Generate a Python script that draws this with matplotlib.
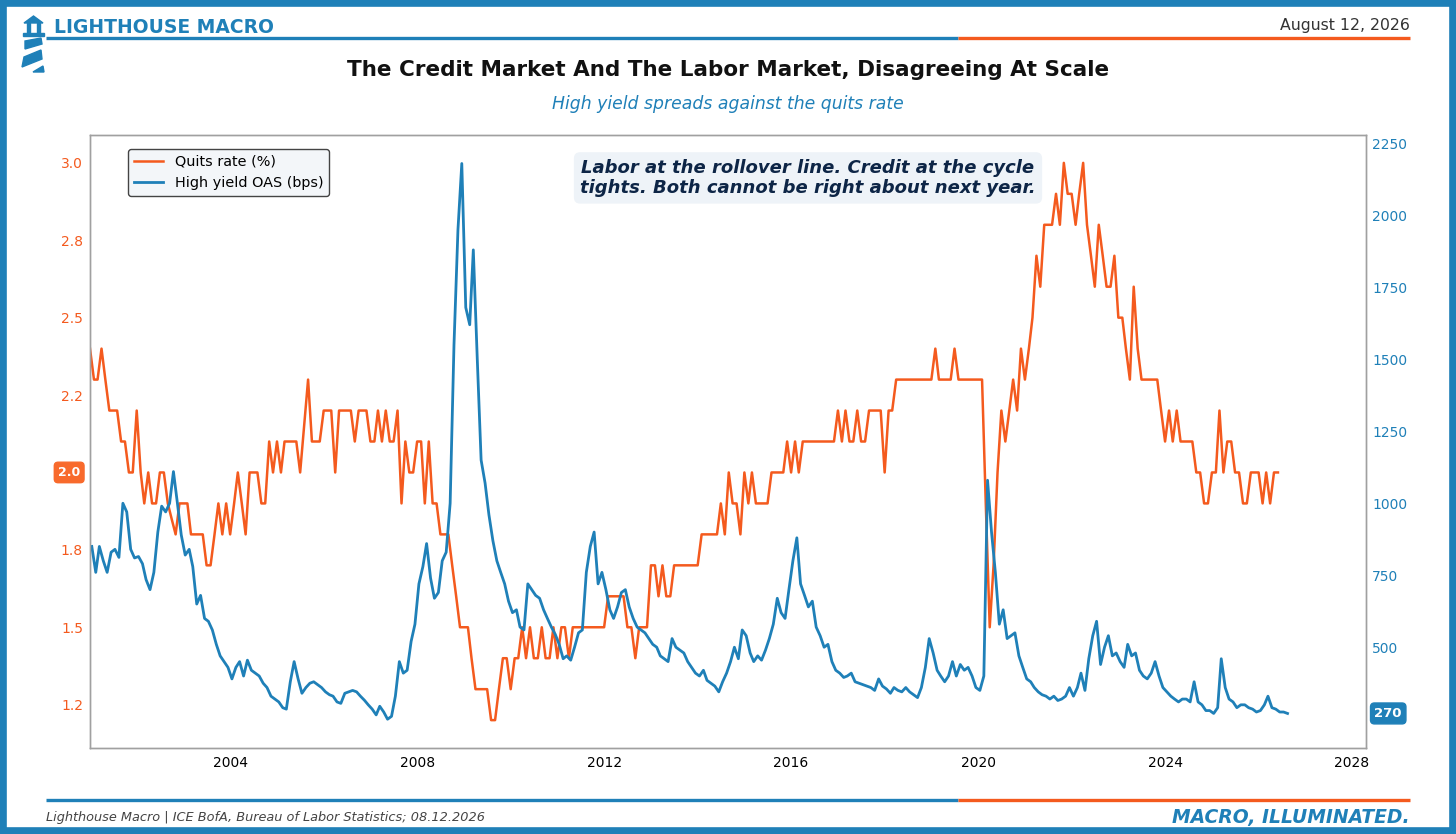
import pandas as pd
import matplotlib
matplotlib.use("Agg")
import matplotlib.pyplot as plt
import matplotlib.dates as mdates
from matplotlib.patches import Rectangle, Polygon
from matplotlib.lines import Line2D
from matplotlib.ticker import MultipleLocator, FuncFormatter, FixedLocator

BLUE = '#1f80b8'
ORANGE = '#f45a1e'
NAVY = '#0d2546'
W, H = 1456, 834

# JOLTS quits rate, monthly from Jan 2001 (%)
quits_rate = [
    2.4, 2.3, 2.3, 2.4, 2.3, 2.2, 2.2, 2.2, 2.1, 2.1, 2.0, 2.0,
    2.2, 2.0, 1.9, 2.0, 1.9, 1.9, 2.0, 2.0, 1.9, 1.85, 1.8, 1.9,
    1.9, 1.9, 1.8, 1.8, 1.8, 1.8, 1.7, 1.7, 1.8, 1.9, 1.8, 1.9,
    1.8, 1.9, 2.0, 1.9, 1.8, 2.0, 2.0, 2.0, 1.9, 1.9, 2.1, 2.0,
    2.1, 2.0, 2.1, 2.1, 2.1, 2.1, 2.0, 2.15, 2.3, 2.1, 2.1, 2.1,
    2.2, 2.2, 2.2, 2.0, 2.2, 2.2, 2.2, 2.2, 2.1, 2.2, 2.2, 2.2,
    2.1, 2.1, 2.2, 2.1, 2.2, 2.1, 2.1, 2.2, 1.9, 2.1, 2.0, 2.0,
    2.1, 2.1, 1.9, 2.1, 1.9, 1.9, 1.8, 1.8, 1.8, 1.7, 1.6, 1.5,
    1.5, 1.5, 1.4, 1.3, 1.3, 1.3, 1.3, 1.2, 1.2, 1.3, 1.4, 1.4,
    1.3, 1.4, 1.4, 1.5, 1.4, 1.5, 1.4, 1.4, 1.5, 1.4, 1.4, 1.5,
    1.4, 1.5, 1.5, 1.4, 1.5, 1.5, 1.5, 1.5, 1.5, 1.5, 1.5, 1.5,
    1.5, 1.6, 1.6, 1.6, 1.6, 1.6, 1.5, 1.5, 1.4, 1.5, 1.5, 1.5,
    1.7, 1.7, 1.6, 1.7, 1.6, 1.6, 1.7, 1.7, 1.7, 1.7, 1.7, 1.7,
    1.7, 1.8, 1.8, 1.8, 1.8, 1.8, 1.9, 1.8, 2.0, 1.9, 1.9, 1.8,
    2.0, 1.9, 2.0, 1.9, 1.9, 1.9, 1.9, 2.0, 2.0, 2.0, 2.0, 2.1,
    2.0, 2.1, 2.0, 2.1, 2.1, 2.1, 2.1, 2.1, 2.1, 2.1, 2.1, 2.1,
    2.2, 2.1, 2.2, 2.1, 2.1, 2.2, 2.1, 2.1, 2.2, 2.2, 2.2, 2.2,
    2.0, 2.2, 2.2, 2.3, 2.3, 2.3, 2.3, 2.3, 2.3, 2.3, 2.3, 2.3,
    2.3, 2.4, 2.3, 2.3, 2.3, 2.3, 2.4, 2.3, 2.3, 2.3, 2.3, 2.3,
    2.3, 2.3, 1.9, 1.5, 1.7, 2.0, 2.2, 2.1, 2.2, 2.3, 2.2, 2.4,
    2.3, 2.4, 2.5, 2.7, 2.6, 2.8, 2.8, 2.8, 2.9, 2.8, 3.0, 2.9,
    2.9, 2.8, 2.9, 3.0, 2.8, 2.7, 2.6, 2.8, 2.7, 2.6, 2.6, 2.7,
    2.5, 2.5, 2.4, 2.3, 2.6, 2.4, 2.3, 2.3, 2.3, 2.3, 2.3, 2.2,
    2.1, 2.2, 2.1, 2.2, 2.1, 2.1, 2.1, 2.1, 2.0, 2.0, 1.9, 1.9,
    2.0, 2.0, 2.2, 2.0, 2.1, 2.1, 2.0, 2.0, 1.9, 1.9, 2.0, 2.0,
    2.0, 1.9, 2.0, 1.9, 2.0, 2.0,
]

# ICE BofA US high yield OAS, monthly readings from Jan 2001 (bps)
hy_oas = [
    850, 760, 850, 800, 760, 830, 840, 812, 1000, 970, 840, 810,
    815, 790, 735, 700, 760, 900, 990, 970, 1000, 1110, 1000, 890,
    820, 840, 780, 650, 680, 600, 590, 560, 510, 470, 450, 430,
    390, 430, 450, 400, 455, 420, 410, 400, 375, 360, 330, 320,
    310, 290, 285, 380, 450, 390, 340, 360, 375, 380, 370, 360,
    345, 335, 330, 310, 305, 340, 345, 350, 345, 330, 316, 300,
    285, 265, 295, 275, 250, 260, 330, 450, 410, 420, 520, 580,
    720, 780, 860, 740, 670, 690, 800, 830, 1000, 1550, 1950, 2180,
    1680, 1620, 1880, 1500, 1150, 1070, 960, 870, 800, 760, 720, 660,
    620, 630, 570, 560, 720, 700, 680, 670, 630, 600, 570, 545,
    510, 460, 470, 455, 500, 550, 560, 760, 850, 900, 720, 760,
    700, 630, 600, 640, 690, 700, 640, 600, 570, 560, 550, 530,
    510, 500, 470, 460, 450, 530, 500, 490, 480, 450, 430, 410,
    400, 420, 385, 375, 365, 345, 380, 410, 450, 500, 460, 560,
    540, 480, 450, 470, 455, 490, 530, 580, 670, 620, 600, 700,
    800, 880, 720, 680, 640, 660, 570, 540, 500, 510, 450, 420,
    410, 395, 400, 410, 380, 375, 370, 365, 360, 350, 390, 365,
    355, 340, 360, 350, 345, 360, 345, 335, 325, 360, 430, 530,
    480, 420, 400, 380, 400, 450, 400, 440, 420, 430, 400, 360,
    350, 400, 1080, 900, 760, 580, 630, 530, 540, 550, 470, 430,
    390, 380, 360, 345, 335, 330, 320, 330, 315, 320, 330, 360,
    330, 360, 410, 350, 460, 540, 590, 440, 500, 540, 470, 480,
    450, 430, 510, 470, 480, 420, 400, 390, 410, 450, 400, 360,
    345, 330, 320, 310, 320, 320, 310, 380, 310, 300, 280, 280,
    270, 290, 460, 360, 320, 310, 290, 300, 300, 290, 285, 275,
    280, 300, 330, 290, 285, 275, 275, 270,
]

hy_ticks = [500, 750, 1000, 1250, 1500, 1750, 2000, 2250]

quits_dates = pd.date_range('2001-01-01', periods=len(quits_rate), freq='MS')
hy_dates = pd.date_range('2001-01-01', periods=len(hy_oas), freq='MS') + pd.Timedelta(days=14)

fig = plt.figure(figsize=(W / 100, H / 100), dpi=100)
ax = fig.add_axes([90 / W, (H - 748) / H, (1366 - 90) / W, (748 - 135) / H])
ax2 = ax.twinx()

ax.plot(quits_dates, quits_rate, color=ORANGE, lw=1.8, label='Quits rate (%)')
ax2.plot(hy_dates, hy_oas, color=BLUE, lw=2.0, label='High yield OAS (bps)')

ax.set_xlim(pd.Timestamp('2001-01-01'), pd.Timestamp('2028-04-19'))
ax.set_ylim(1.11, 3.09)
ax2.set_ylim(150, 2279)

# the last quits level is shown by the badge, so its plain tick label stays empty
last_q = quits_rate[-1]
ax.xaxis.set_major_locator(mdates.YearLocator(4))
ax.xaxis.set_major_formatter(mdates.DateFormatter('%Y'))
ax.yaxis.set_major_locator(MultipleLocator(0.25))
ax.yaxis.set_major_formatter(FuncFormatter(lambda v, p: '' if abs(v - last_q) < 1e-6 else f'{v:.1f}'))
ax2.yaxis.set_major_locator(FixedLocator(hy_ticks))

ax.tick_params(axis='x', length=0, pad=6, labelsize=10, labelcolor='black')
ax.tick_params(axis='y', length=0, pad=5, labelsize=10, labelcolor=ORANGE)
ax2.tick_params(axis='y', length=0, pad=4.5, labelsize=10, labelcolor=BLUE)
for a in (ax, ax2):
    for s in a.spines.values():
        s.set_color('#a0a0a0')
        s.set_linewidth(1.0)

handles = [Line2D([], [], color=ORANGE, lw=1.8), Line2D([], [], color=BLUE, lw=2.0)]
leg = ax2.legend(handles, ['Quits rate (%)', 'High yield OAS (bps)'], loc='upper left',
                 bbox_to_anchor=(0.03, 0.977), borderaxespad=0, fontsize=10.4,
                 frameon=True, fancybox=True, framealpha=1)
leg.get_frame().set_facecolor('#f3f6f9')
leg.get_frame().set_edgecolor('#444444')

ax2.text(0.5627, 0.93, 'Labor at the rollover line. Credit at the cycle\ntights. Both cannot be right about next year.',
         transform=ax2.transAxes, ha='center', va='center', multialignment='center',
         fontsize=13, fontweight='bold', fontstyle='italic', color=NAVY, zorder=6,
         bbox=dict(boxstyle='round,pad=0.35', facecolor='#eef3f8', edgecolor='none'))

# last-value badges on each axis
ax.annotate(f'{quits_rate[-1]:.1f}', xy=(0, quits_rate[-1]), xycoords=('axes fraction', 'data'),
            xytext=(-15, 0), textcoords='offset points', ha='center', va='center',
            fontsize=9, fontweight='bold', color='white', annotation_clip=False, zorder=10,
            bbox=dict(boxstyle='round,pad=0.3', facecolor='#f86a2c', edgecolor='#f86a2c'))
ax2.annotate(f'{hy_oas[-1]:.0f}', xy=(1, hy_oas[-1]), xycoords=('axes fraction', 'data'),
             xytext=(16, 0), textcoords='offset points', ha='center', va='center',
             fontsize=9.5, fontweight='bold', color='white', annotation_clip=False, zorder=10,
             bbox=dict(boxstyle='round,pad=0.3', facecolor=BLUE, edgecolor=BLUE))

# decorations in pixel coordinates
deco = fig.add_axes([0, 0, 1, 1], zorder=20)
deco.set_xlim(0, W)
deco.set_ylim(H, 0)
deco.axis('off')
deco.patch.set_alpha(0)

deco.add_patch(Rectangle((3, 3), W - 6, H - 6, fill=False, edgecolor=BLUE, lw=5.5))

for y in (38, 800):
    deco.plot([46, 958], [y, y], color=BLUE, lw=2.4, solid_capstyle='butt')
    deco.plot([958, 1410], [y, y], color=ORANGE, lw=2.4, solid_capstyle='butt')

# lighthouse mark
deco.add_patch(Polygon([(24, 23), (33.5, 16), (43, 23)], closed=True, color=BLUE))
deco.add_patch(Rectangle((27, 23), 3, 10, color=BLUE))
deco.add_patch(Rectangle((37, 23), 3, 10, color=BLUE))
deco.add_patch(Rectangle((23, 33), 21, 3, color=BLUE))
deco.add_patch(Polygon([(25, 41), (41, 38), (42, 44), (25, 49)], closed=True, color=BLUE))
deco.add_patch(Polygon([(24, 57), (41, 50), (42, 59), (22, 67)], closed=True, color=BLUE))
deco.add_patch(Polygon([(33, 72), (43, 66), (44, 72)], closed=True, color=BLUE))

deco.text(54, 27, 'LIGHTHOUSE MACRO', ha='left', va='center', fontsize=13.5,
          fontweight='bold', color=BLUE)
deco.text(1410, 25, 'August 12, 2026', ha='right', va='center', fontsize=11.3, color='#333333')
deco.text(728, 70, 'The Credit Market And The Labor Market, Disagreeing At Scale',
          ha='center', va='center', fontsize=15.5, fontweight='bold', color='#111111')
deco.text(728, 104, 'High yield spreads against the quits rate', ha='center', va='center',
          fontsize=12.4, fontstyle='italic', color=BLUE)
deco.text(46, 818, 'Lighthouse Macro | ICE BofA, Bureau of Labor Statistics; 08.12.2026',
          ha='left', va='center', fontsize=9.3, fontstyle='italic', color='#444444')
deco.text(1410, 818, 'MACRO, ILLUMINATED.', ha='right', va='center', fontsize=13.5,
          fontweight='bold', fontstyle='italic', color=BLUE)

fig.savefig('out.png', dpi=100)
